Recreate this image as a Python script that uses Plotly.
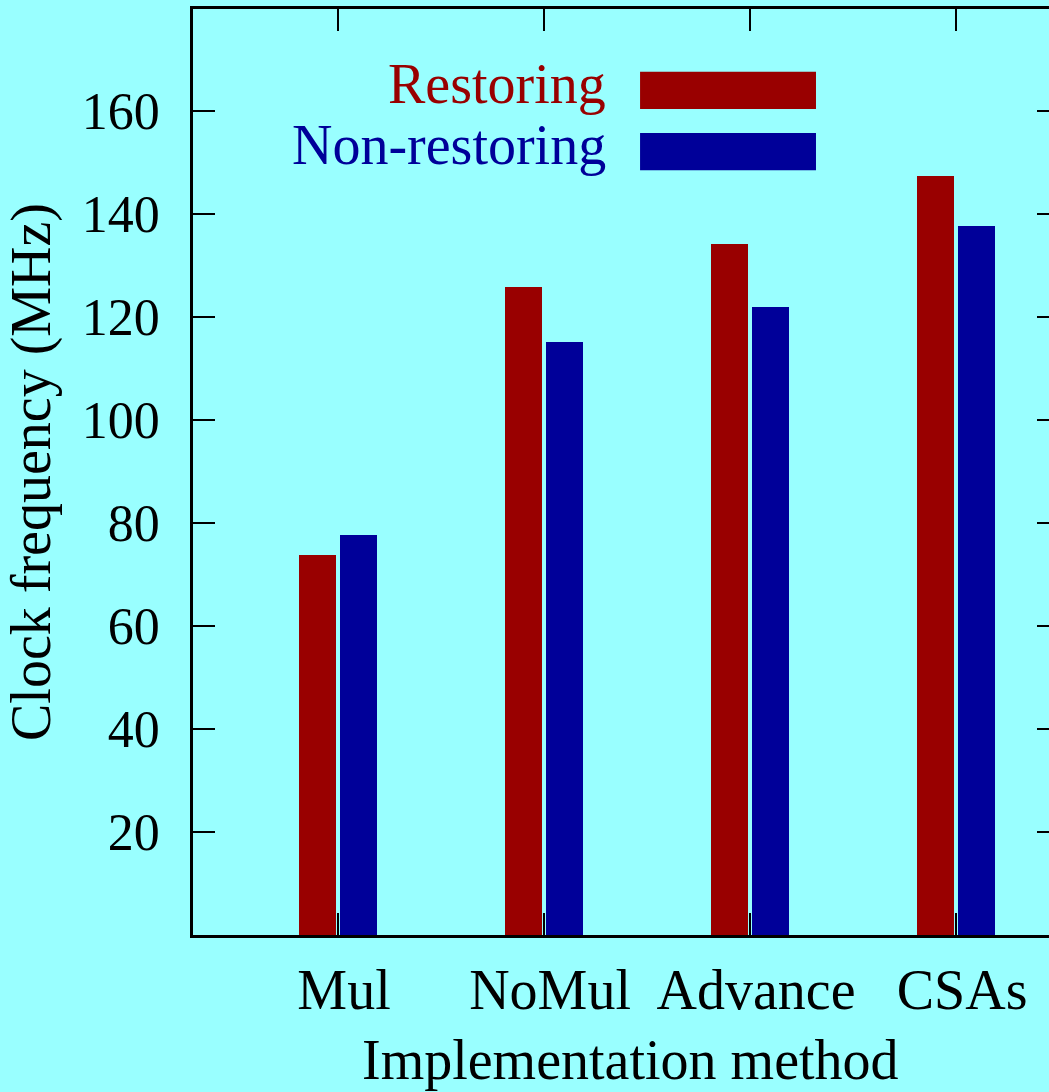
import plotly.graph_objects as go

categories = ["Mul", "NoMul", "Advance", "CSAs"]
restoring = [73.8, 125.9, 134.2, 147.4]
non_restoring = [77.7, 115.1, 121.9, 137.6]
y_ticks = [20, 40, 60, 80, 100, 120, 140, 160]
series_names = ["Restoring", "Non-restoring"]
x_title = "Implementation method"
y_title = "Clock frequency (MHz)"

RED = "#990000"
BLUE = "#000099"
BG = "#99FFFF"
FONT = "Liberation Serif, Times New Roman, serif"

xpos = list(range(len(categories)))

fig = go.Figure()
fig.add_trace(go.Bar(x=xpos, y=restoring, width=0.18, offset=-0.19,
                     marker=dict(color=RED, line=dict(width=0)), name=series_names[0],
                     showlegend=False))
fig.add_trace(go.Bar(x=xpos, y=non_restoring, width=0.18, offset=0.01,
                     marker=dict(color=BLUE, line=dict(width=0)), name=series_names[1],
                     showlegend=False))
# invisible trace for right-side y ticks
fig.add_trace(go.Scatter(x=[0], y=[0], yaxis="y2", mode="markers",
                         marker=dict(opacity=0), showlegend=False, hoverinfo="skip"))

fig.update_layout(
    width=1049, height=1092,
    margin=dict(l=193, r=0, t=9, b=157),
    paper_bgcolor=BG, plot_bgcolor=BG,
    font=dict(family=FONT, size=56, color="black"),
    bargap=0,
    xaxis=dict(
        range=[-0.704, 3.451],
        tickvals=xpos, ticktext=categories,
        ticks="inside", ticklen=22, tickwidth=2, tickcolor="black",
        showline=True, linewidth=2.5, linecolor="black", mirror="ticks",
        showgrid=False, zeroline=False,
        tickfont=dict(size=56, family=FONT),
        ticklabelstandoff=4, ticklabelshift=6,
    ),
    yaxis=dict(
        range=[0, 179.8],
        tickvals=y_ticks,
        ticks="inside", ticklen=22, tickwidth=2, tickcolor="black",
        showline=True, linewidth=2.5, linecolor="black",
        showgrid=False, zeroline=False,
        tickfont=dict(size=52, family=FONT),
        ticklabelstandoff=20,
        title=dict(text=y_title, font=dict(size=56, family=FONT), standoff=14),
    ),
    yaxis2=dict(
        overlaying="y", side="right", range=[0, 179.8],
        tickvals=y_ticks, showticklabels=False,
        ticks="inside", ticklen=12, tickwidth=2, tickcolor="black",
        showline=False, showgrid=False, zeroline=False,
    ),
)

# x-axis title
fig.add_annotation(x=1.422, y=0, xref="x", yref="paper", yshift=-125, text=x_title,
                   showarrow=False, xanchor="center", yanchor="middle",
                   font=dict(size=56, family=FONT, color="black"))

# legend (text labels + colour keys)
legend_rows = [(series_names[0], RED, 165.2, 167.6, 160.4),
               (series_names[1], BLUE, 153.3, 155.7, 148.5)]
for name, col, yc, y0, y1 in legend_rows:
    fig.add_annotation(x=1.31, y=yc, xref="x", yref="y", text=name, showarrow=False,
                       xanchor="right", yanchor="middle",
                       font=dict(color=col, size=56, family=FONT))
    fig.add_shape(type="rect", xref="x", yref="y", x0=1.466, x1=2.320, y0=y1, y1=y0,
                  fillcolor=col, line=dict(width=0))

fig.write_html(
    "out.html",
    config={"displayModeBar": False},
    post_script="document.body.style.margin='0';document.body.style.background='#99FFFF';"
                "document.documentElement.style.overflow='hidden';",
)
